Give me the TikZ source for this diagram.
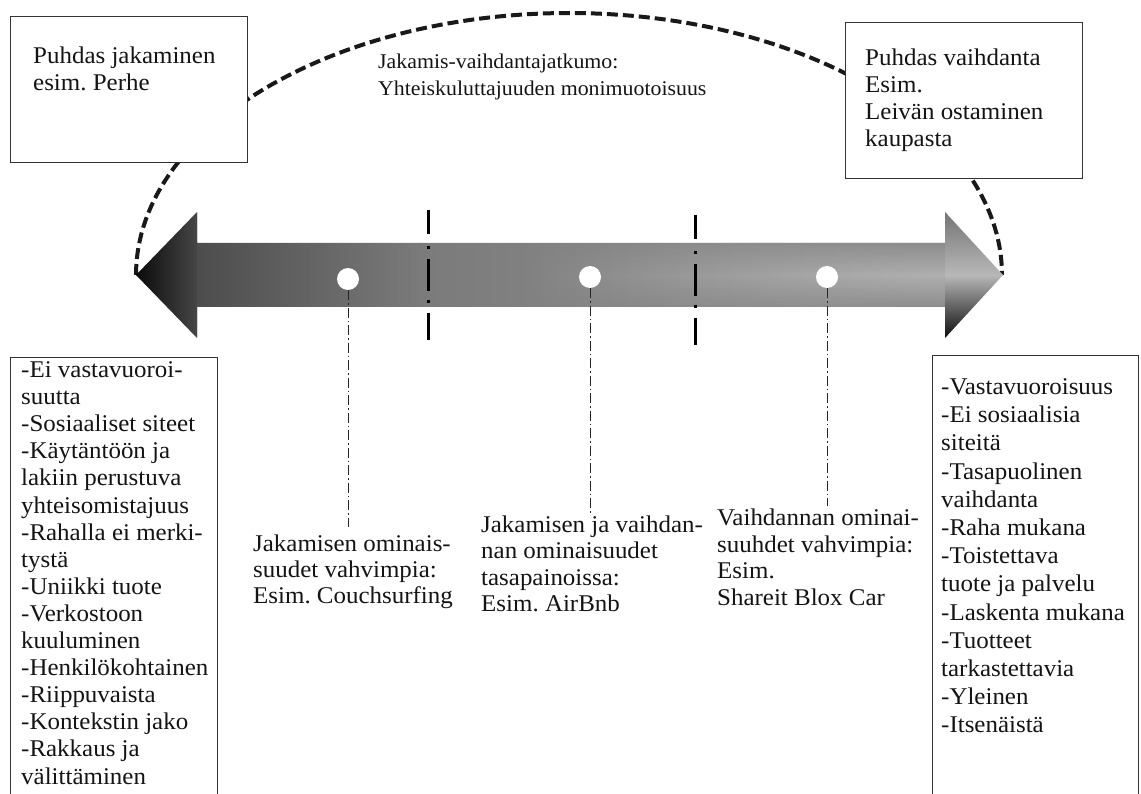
\documentclass[tikz,border=0pt]{standalone}
\usepackage{fontspec}
\setmainfont{Liberation Serif}[FakeStretch=1.04]
\usetikzlibrary{fadings}
\frenchspacing
\begin{document}
\begin{tikzpicture}[x=1pt,y=-1pt,
  box/.style={draw=black!80, line width=1.2pt, fill=white, rectangle, inner sep=0pt, anchor=north west},
  txt/.style={anchor=north west, inner sep=0pt, align=left, text=black!92, font=\fontsize{24}{27}\selectfont},
  ttl/.style={anchor=north west, inner sep=0pt, align=left, text=black!92, font=\fontsize{21}{27}\selectfont},
  arcline/.style={line width=4pt, dash pattern=on 11pt off 5pt, black!90},
  sepline/.style={line width=3pt, dash pattern=on 24pt off 12pt on 3pt off 10pt on 32pt off 9pt on 3pt off 10pt on 40pt off 0pt, black},
  ddline/.style={line width=1pt, dash pattern=on 10pt off 3pt on 1.5pt off 3pt, black!85},
  dot/.style={circle, fill=white, minimum size=22pt, inner sep=0pt}]
\useasboundingbox (0,0) rectangle (1141,794);
\clip (0,0) rectangle (1141,794);

% dashed arc (continuum)
\draw[arcline] plot[domain=180:360, samples=120] ({569+433*cos(\x)}, {275+262*sin(\x)});

% top boxes
\node[box, minimum width=237pt, minimum height=146pt] (tlbox) at (10,16) {};
\node[txt] (tltext) at (33,46.5) {Puhdas jakaminen\\esim. Perhe};
\node[box, minimum width=237pt, minimum height=156pt] (trbox) at (845,22) {};
\node[txt] (trtext) at (865,48.5) {Puhdas vaihdanta\\Esim.\\Leivän ostaminen\\kaupasta};

% title
\node[ttl] (title) at (378,53.5) {Jakamis-vaihdantajatkumo:\\Yhteiskuluttajuuden monimuotoisuus};

% double arrow
\begin{scope}
  \clip (136,275) -- (197,212) -- (197,243) -- (945,243) -- (945,212) -- (1003,275)
        -- (945,338) -- (945,307) -- (197,307) -- (197,338) -- cycle;
  \shade[left color=black!97, right color=black!72] (134,210) rectangle (198,340);
  \shade[left color=black!70, right color=black!52] (197,210) rectangle (420,340);
  \shade[left color=black!52, right color=black!40] (419,210) rectangle (947,340);
  \shade[top color=black!45, bottom color=black!45, middle color=black!31, path fading=west] (520,243) rectangle (946,307);
  \shade[top color=black!55, bottom color=black!97, middle color=black!28] (945,210) rectangle (1005,340);
\end{scope}

% separators
\coordinate (s1t) at (428,210);
\coordinate (s1b) at (428,340);
\coordinate (s2t) at (695,215);
\coordinate (s2b) at (695,345);
\draw[sepline] (s1t) -- (s1b);
\draw[sepline] (s2t) -- (s2b);

% dots and leader lines
\node[dot] (d1) at (348,279) {};
\node[dot] (d2) at (590,277) {};
\node[dot] (d3) at (827,277) {};
\coordinate (e1) at (348,527);
\coordinate (e2) at (590,513);
\coordinate (e3) at (827,506);
\draw[ddline] (d1.south) -- (e1);
\draw[ddline] (d2.south) -- (e2);
\draw[ddline] (d3.south) -- (e3);

% middle labels
\node[txt, font=\fontsize{24}{26}\selectfont] (lab1) at (253,534.5) {Jakamisen ominais-\\suudet vahvimpia:\\Esim. Couchsurfing};
\node[txt, font=\fontsize{24}{26.5}\selectfont] (lab2) at (481,515.5) {Jakamisen ja vaihdan-\\nan ominaisuudet\\tasapainoissa:\\Esim. AirBnb};
\node[txt, font=\fontsize{24}{26.7}\selectfont] (lab3) at (717,508.5) {Vaihdannan ominai-\\suuhdet vahvimpia:\\Esim.\\Shareit Blox Car};

% bottom boxes
\node[box, minimum width=207pt, minimum height=450pt] (blbox) at (10,357) {};
\node[txt, font=\fontsize{24}{27.1}\selectfont] (bltext) at (21,361.5) {-Ei vastavuoroi-\\suutta\\-Sosiaaliset siteet\\-Käytäntöön ja\\lakiin perustuva\\yhteisomistajuus\\-Rahalla ei merki-\\tystä\\-Uniikki tuote\\-Verkostoon\\kuuluminen\\-Henkilökohtainen\\-Riippuvaista\\-Kontekstin jako\\-Rakkaus ja\\välittäminen};
\node[box, minimum width=206pt, minimum height=450pt] (brbox) at (932,355) {};
\node[txt, font=\fontsize{24}{28.2}\selectfont] (brtext) at (941,378.5) {-Vastavuoroisuus\\-Ei sosiaalisia\\siteitä\\-Tasapuolinen\\vaihdanta\\-Raha mukana\\-Toistettava\\tuote ja palvelu\\-Laskenta mukana\\-Tuotteet\\tarkastettavia\\-Yleinen\\-Itsenäistä};
\end{tikzpicture}
\end{document}
